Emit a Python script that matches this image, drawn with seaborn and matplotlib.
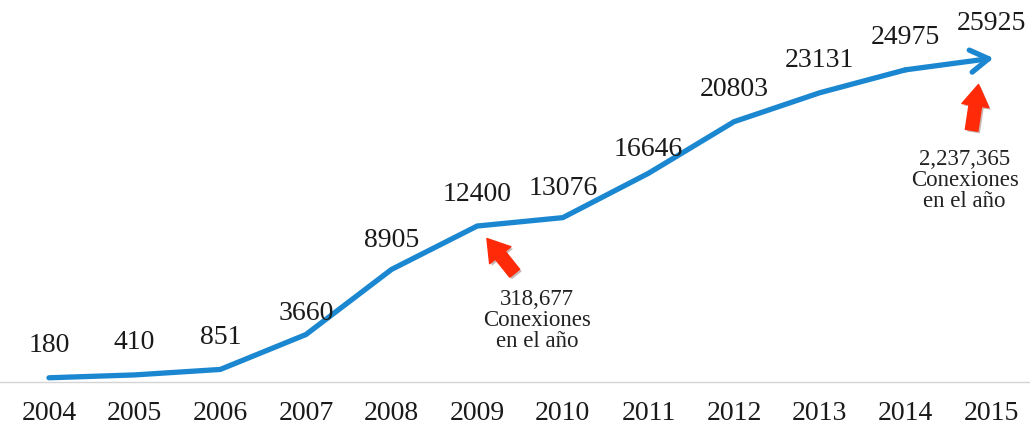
import matplotlib
matplotlib.use("Agg")
import matplotlib.pyplot as plt
import matplotlib.patheffects as pe
import matplotlib.transforms as mtransforms
import seaborn as sns
import pandas as pd

# Datos del gráfico
years = ['2004', '2005', '2006', '2007', '2008', '2009',
         '2010', '2011', '2012', '2013', '2014', '2015']
values = [180, 410, 851, 3660, 8905, 12400,
          13076, 16646, 20803, 23131, 24975, 25925]
notes = {'2009': '318,677\nConexiones\nen el año',
         '2015': '2,237,365\nConexiones\nen el año'}

df = pd.DataFrame({'year': years, 'value': values})

sns.set_style('white')
plt.rcParams['font.family'] = ['Liberation Serif', 'DejaVu Serif']

blue = '#1b87d0'
red = '#ff2a08'

fig = plt.figure(figsize=(10.3, 4.25), dpi=100)
ax = fig.add_axes([0.0, 43 / 425, 1.0, 1 - 43 / 425])

xs = list(range(len(years)))
# linea hasta 2014, el ultimo tramo se dibuja como flecha
sns.lineplot(x=xs[:-1], y=values[:-1], ax=ax, color=blue, linewidth=3.8,
             solid_capstyle='round', solid_joinstyle='miter')
ax.annotate('', xy=(xs[-1] + 0.03, values[-1]), xytext=(xs[-2], values[-2]),
            arrowprops=dict(arrowstyle='->,head_length=1.3,head_width=0.8',
                            color=blue, lw=3.8, shrinkA=0, shrinkB=0,
                            capstyle='round'))

# etiquetas de valores
for x, y, lab in zip(xs, values, years):
    dy = 14
    if lab == '2007':
        dy = 6
    elif lab == '2011':
        dy = 8
    elif lab in ('2008', '2010'):
        dy = 12
    elif lab == '2015':
        dy = 16
    ax.annotate(str(y), (x, y), xytext=(0, dy), textcoords='offset points',
                ha='center', va='bottom', fontsize=20, color='#1a1a1a')

# flechas rojas y notas
shadow = [pe.SimplePatchShadow(offset=(1.5, -1.5), alpha=0.3), pe.Normal()]
arrow_pos = {'2009': ((27, -34), (7, -9)), '2015': ((-14, -52), (-9, -19))}
text_pos = {'2009': (43, -68), '2015': (-19, -88)}


def shifted(dx, dy):
    return ax.transData + mtransforms.ScaledTranslation(dx / 72, dy / 72, fig.dpi_scale_trans)


for lab, txt in notes.items():
    i = years.index(lab)
    tail, tip = arrow_pos[lab]
    ax.annotate('', xy=(xs[i], values[i]), xycoords=shifted(*tip),
                xytext=(xs[i], values[i]), textcoords=shifted(*tail),
                arrowprops=dict(arrowstyle='simple,head_width=1.4,head_length=1.1,tail_width=0.65',
                                color=red, shrinkA=0, shrinkB=0,
                                mutation_scale=14, path_effects=shadow))
    ax.annotate(txt, (xs[i], values[i]), xytext=text_pos[lab],
                textcoords='offset points', ha='center', va='center',
                fontsize=16.5, color='#222222', linespacing=1.0)

ax.set_xlim(-0.572, 11.455)
ax.set_ylim(-160, 30600)
ax.set_xticks(xs)
ax.set_xticklabels(years, fontsize=20, color='#1a1a1a')
ax.set_yticks([])
ax.tick_params(axis='x', length=0, pad=14)
for s in ['top', 'right', 'left']:
    ax.spines[s].set_visible(False)
ax.spines['bottom'].set_color('#d4d4d4')
ax.spines['bottom'].set_linewidth(1)
ax.set_xlabel('')
ax.set_ylabel('')

fig.savefig('out.png', dpi=100)
